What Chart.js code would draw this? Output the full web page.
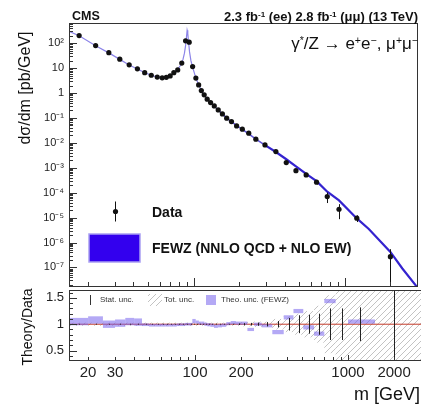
<!DOCTYPE html>
<html lang="en">
<head>
<meta charset="UTF-8">
<title>Drell-Yan dσ/dm</title>
<script src="https://cdn.jsdelivr.net/npm/chart.js"></script>
<style>
    body { margin: 0; background: #fff; }
    .wrap {
        position: relative;
        width: 421px;
        height: 404px;
        overflow: hidden;
        font-family: "Liberation Sans", Arial, Helvetica, sans-serif;
        color: #111;
    }
    canvas { position: absolute; left: 0; top: 0; }
    .txt { position: absolute; white-space: nowrap; line-height: 1; }
    .txt sup { font-size: 0.62em; vertical-align: 0.5em; line-height: 0; }
    .rot { transform: translate(-50%, -50%) rotate(-90deg); }
    .small { font-size: 8px; color: #333; }
</style>
</head>
<body>
<div class="wrap">
    <canvas id="topChart" width="421" height="404"></canvas>
    <canvas id="ratioChart" width="421" height="404"></canvas>

    <div class="txt" style="left:72px; top:10px; font-size:12.5px; font-weight:bold;">CMS</div>
    <div class="txt" style="right:3px; top:10px; font-size:13px; font-weight:bold;">2.3 fb<sup>-1</sup> (ee) 2.8 fb<sup>-1</sup> (μμ) (13 TeV)</div>
    <div class="txt" style="right:3px; top:35px; font-size:17px;">γ<sup>*</sup>/Z → e<sup>+</sup>e<sup>−</sup>, μ<sup>+</sup>μ<sup>−</sup></div>

    <div class="txt" style="left:152px; top:205px; font-size:14px; font-weight:bold;">Data</div>
    <div class="txt" style="left:152px; top:241px; font-size:14px; font-weight:bold;">FEWZ (NNLO QCD + NLO EW)</div>

    <div class="txt rot" style="left:25px; top:88px; font-size:16px;">dσ/dm [pb/GeV]</div>
    <div class="txt rot" style="left:27px; top:327px; font-size:14px;">Theory/Data</div>
    <div class="txt" style="right:1px; top:385px; font-size:18px;">m [GeV]</div>

    <div class="txt small" style="left:100px; top:296px;">Stat. unc.</div>
    <div class="txt small" style="left:164px; top:296px;">Tot. unc.</div>
    <div class="txt small" style="left:221px; top:296px;">Theo. unc. (FEWZ)</div>
</div>

<script>
    // ---- data ----
    const xMin = 15, xMax = 3000;

    const binLow  = [15, 20, 25, 30, 35, 40, 45, 50, 55, 60, 64, 68, 72, 76, 81, 86, 91, 96, 101, 106,
                     110, 115, 120, 126, 133, 141, 150, 160, 171, 185, 200, 220, 243, 273, 320, 380, 440, 510, 600, 700,
                     830, 1000, 1500];
    const binHigh = [20, 25, 30, 35, 40, 45, 50, 55, 60, 64, 68, 72, 76, 81, 86, 91, 96, 101, 106, 110,
                     115, 120, 126, 133, 141, 150, 160, 171, 185, 200, 220, 243, 273, 320, 380, 440, 510, 600, 700, 830,
                     1000, 1500, 3000];
    // where the markers sit
    const massCenter = [17.5, 22.5, 27.5, 32.5, 37.5, 42.5, 47.5, 52.5, 57.5, 62, 66, 70, 74, 78.5, 83.5, 88.5, 93.5, 98.5, 103.5, 108,
                        112.5, 117.5, 123, 129.5, 137, 145.5, 155, 165.5, 178, 192.5, 210, 231.5, 258, 296.5, 350, 410, 475, 555, 650, 765,
                        915, 1200, 2000];
    // dsigma/dm [pb/GeV]
    const xsData = [204, 81, 42, 23, 13.6, 9.4, 6.6, 5.2, 4.4, 4.1,
                    4.3, 4.9, 6.6, 8.5, 16, 125, 110, 11.6, 4.0, 2.13,
                    1.26, 0.85, 0.57, 0.415, 0.306, 0.211, 0.146, 0.098, 0.072, 0.048,
                    0.0355, 0.0245, 0.0141, 0.0083, 0.0045, 0.00162, 0.00077, 0.00052, 0.000264, 0.00007,
                    0.0000217, 0.0000095, 0.00000027];
    // relative error on the data points
    const xsErr = [0.02, 0.02, 0.02, 0.02, 0.02, 0.02, 0.02, 0.02, 0.02, 0.02,
                   0.02, 0.02, 0.02, 0.02, 0.02, 0.02, 0.02, 0.02, 0.02, 0.02,
                   0.02, 0.02, 0.02, 0.02, 0.02, 0.02, 0.02, 0.02, 0.02, 0.02,
                   0.02, 0.02, 0.02, 0.02, 0.05, 0.08, 0.1, 0.12, 0.18, 0.45,
                   0.6, 0.3, 1.0];

    // FEWZ prediction curve
    const mTheory  = [15, 17.5, 22.5, 27.5, 32.5, 37.5, 42.5, 47.5, 52.5, 57.5,
                      62, 66, 70, 74, 78.5, 82, 85, 87, 88.5, 89.5,
                      90.6, 91.5, 92.5, 94, 96, 98.5, 103.5, 108, 112.5, 117.5,
                      123, 129.5, 137, 145.5, 155, 165.5, 178, 192.5, 210, 231.5,
                      258, 296.5, 350, 410, 475, 555, 650, 765, 915, 1200,
                      1440, 2000, 2400, 3000];
    const xsTheory = [300, 200, 80, 41, 22.5, 13.5, 9.3, 6.6, 5.2, 4.4,
                      4.1, 4.3, 5.0, 6.5, 9.0, 13, 22, 40, 80, 150,
                      330, 250, 120, 45, 20, 11, 4.0, 2.15, 1.28, 0.85,
                      0.57, 0.41, 0.30, 0.21, 0.146, 0.099, 0.071, 0.049, 0.035, 0.023,
                      0.0141, 0.0081, 0.0043, 0.0022, 0.00115, 0.00057, 0.00029, 0.00011, 0.000049, 0.0000093,
                      0.0000035, 0.00000042, 0.000000091, 0.0000000165];

    // ratio panel
    const ratio = [1.05, 1.08, 1.00, 1.02, 1.05, 1.04, 0.99, 0.98, 0.98, 0.98,
                   0.98, 0.98, 0.98, 0.99, 0.99, 1.00, 1.00, 1.06, 1.04, 1.02,
                   1.02, 1.00, 0.99, 0.98, 0.96, 0.97, 0.98, 1.01, 1.03, 1.02,
                   1.02, 0.90, 1.00, 0.97, 0.85, 1.13, 1.25, 0.94, 0.82, 1.44,
                   null, 1.05, null];
    const theoUnc = [0.07, 0.07, 0.07, 0.07, 0.07, 0.07, 0.025, 0.025, 0.025, 0.025,
                     0.025, 0.025, 0.025, 0.025, 0.025, 0.025, 0.025, 0.04, 0.03, 0.03,
                     0.03, 0.03, 0.03, 0.03, 0.03, 0.03, 0.03, 0.03, 0.03, 0.03,
                     0.03, 0.03, 0.03, 0.03, 0.04, 0.04, 0.04, 0.04, 0.04, 0.04,
                     0.04, 0.04, 0.04];
    const statUnc = [0.006, 0.006, 0.006, 0.006, 0.006, 0.006, 0.006, 0.006, 0.006, 0.006,
                     0.006, 0.006, 0.006, 0.006, 0.006, 0.006, 0.006, 0.006, 0.006, 0.006,
                     0.006, 0.006, 0.006, 0.006, 0.006, 0.006, 0.006, 0.006, 0.006, 0.015,
                     0.02, 0.025, 0.03, 0.04, 0.06, 0.12, 0.17, 0.18, 0.2, 0.3,
                     0.3, 0.32, 9];
    const totUnc = [0.03, 0.03, 0.03, 0.03, 0.03, 0.03, 0.03, 0.03, 0.03, 0.03,
                    0.03, 0.03, 0.03, 0.03, 0.03, 0.03, 0.03, 0.03, 0.03, 0.03,
                    0.03, 0.03, 0.03, 0.03, 0.03, 0.03, 0.03, 0.03, 0.03, 0.03,
                    0.04, 0.04, 0.05, 0.05, 0.1, 0.15, 0.2, 0.25, 0.35, 0.55,
                    0.8, 0.8, 9];

    // axes
    const xTickVals = [20, 30, 100, 200, 1000, 2000];
    const yTickVals = [1e-7, 1e-6, 1e-5, 1e-4, 1e-3, 1e-2, 1e-1, 1, 10, 100];
    const yTickLabels = ['10⁻⁷', '10⁻⁶', '10⁻⁵', '10⁻⁴', '10⁻³', '10⁻²', '10⁻¹', '1', '10', '10²'];
    const rTickVals = [0.5, 1, 1.5];
    const rTickLabels = ['0.5', '1', '1.5'];

    // ---- styling ----
    Chart.defaults.font.family = '"Liberation Sans", Arial, Helvetica, sans-serif';
    const frameColor = '#333';
    const theoFill = 'rgba(118, 98, 236, 0.55)';

    // hatch pattern for the total uncertainty
    function makeHatch() {
        const c = document.createElement('canvas');
        c.width = 6; c.height = 6;
        const g = c.getContext('2d');
        g.strokeStyle = '#b4b4b4';
        g.lineWidth = 0.8;
        g.beginPath();
        g.moveTo(0, 6); g.lineTo(6, 0);
        g.moveTo(-1, 1); g.lineTo(1, -1);
        g.moveTo(5, 7); g.lineTo(7, 5);
        g.stroke();
        return g.createPattern(c, 'repeat');
    }

    function logTickValues(min, max) {
        const out = [];
        for (let k = Math.floor(Math.log10(min)); k <= Math.ceil(Math.log10(max)); k++) {
            for (let s = 1; s <= 9; s++) {
                const v = s * Math.pow(10, k);
                if (v >= min * 0.999 && v <= max * 1.001) out.push({ v, major: s === 1 });
            }
        }
        return out;
    }

    function drawFrameAndTicks(chart, yList, xMajorLen, xMinorLen) {
        const { ctx, chartArea: a, scales: { x, y } } = chart;
        ctx.save();
        ctx.strokeStyle = frameColor;
        ctx.lineWidth = 1;
        ctx.strokeRect(a.left + 0.5, a.top + 0.5, a.right - a.left, a.bottom - a.top);
        ctx.beginPath();
        logTickValues(xMin, xMax).forEach(t => {
            const px = Math.round(x.getPixelForValue(t.v)) + 0.5;
            ctx.moveTo(px, a.bottom);
            ctx.lineTo(px, a.bottom - (t.major ? xMajorLen : xMinorLen));
        });
        yList.forEach(t => {
            const py = Math.round(y.getPixelForValue(t.v)) + 0.5;
            ctx.moveTo(a.left, py);
            ctx.lineTo(a.left + (t.major ? 8 : 4), py);
        });
        ctx.stroke();
        ctx.restore();
    }

    // ---- top panel ----
    const topPlugin = {
        id: 'topPanel',
        afterDatasetsDraw(chart) {
            const { ctx, chartArea: a, scales: { x, y } } = chart;
            ctx.save();
            ctx.beginPath();
            ctx.rect(a.left, a.top, a.right - a.left, a.bottom - a.top);
            ctx.clip();
            ctx.strokeStyle = '#111';
            ctx.lineWidth = 1;
            ctx.beginPath();
            massCenter.forEach((m, i) => {
                const v = xsData[i], e = xsErr[i];
                const px = Math.round(x.getPixelForValue(m)) + 0.5;
                const hi = y.getPixelForValue(v * (1 + e));
                const lo = v * (1 - e) > 0 ? y.getPixelForValue(v * (1 - e)) : a.bottom;
                ctx.moveTo(px, hi);
                ctx.lineTo(px, lo);
            });
            ctx.stroke();
            ctx.restore();

            drawFrameAndTicks(chart, logTickValues(y.min, y.max), 8, 4);

            // legend symbols
            ctx.save();
            ctx.strokeStyle = '#111';
            ctx.fillStyle = '#111';
            ctx.lineWidth = 1;
            ctx.beginPath();
            ctx.moveTo(115.5, 201.5); ctx.lineTo(115.5, 221.5);
            ctx.stroke();
            ctx.beginPath();
            ctx.arc(115.5, 211.5, 2.6, 0, Math.PI * 2);
            ctx.fill();
            ctx.fillStyle = '#3300ee';
            ctx.fillRect(89, 234, 51, 28);
            ctx.strokeStyle = '#a99ff2';
            ctx.lineWidth = 1.5;
            ctx.strokeRect(89, 234, 51, 28);
            ctx.restore();
        }
    };

    new Chart(document.getElementById('topChart'), {
        type: 'line',
        data: {
            datasets: [
                {
                    label: 'Data',
                    data: massCenter.map((m, i) => ({ x: m, y: xsData[i] })),
                    showLine: false,
                    pointRadius: 2.6,
                    pointBackgroundColor: '#111',
                    pointBorderColor: '#111',
                    pointBorderWidth: 0
                },
                {
                    label: 'FEWZ (NNLO QCD + NLO EW)',
                    data: mTheory.map((m, i) => ({ x: m, y: xsTheory[i] })),
                    pointRadius: 0,
                    tension: 0,
                    borderColor: '#8c84e8',
                    borderWidth: 1.2,
                    segment: {
                        borderColor: c => c.p1.parsed.x > 300 ? '#3423cf' : (c.p1.parsed.x > 150 ? '#6256dc' : '#8c84e8'),
                        borderWidth: c => c.p1.parsed.x > 300 ? 2.2 : (c.p1.parsed.x > 150 ? 1.6 : 1.2)
                    }
                }
            ]
        },
        options: {
            responsive: false,
            animation: false,
            events: [],
            layout: { padding: { top: 23, bottom: 118, left: 0, right: 0 } },
            plugins: { legend: { display: false }, tooltip: { enabled: false } },
            scales: {
                x: { type: 'logarithmic', min: xMin, max: xMax, display: false },
                y: {
                    type: 'logarithmic',
                    min: 1.8e-8,
                    max: 650,
                    bounds: 'data',
                    grid: { display: false, drawTicks: false },
                    border: { display: false },
                    afterFit: s => { s.width = 69; },
                    afterBuildTicks: s => { s.ticks = yTickVals.map(v => ({ value: v })); },
                    ticks: {
                        autoSkip: false,
                        padding: 5,
                        color: '#222',
                        font: { size: 11 },
                        callback: (v, i) => yTickLabels[i]
                    }
                }
            }
        },
        plugins: [topPlugin]
    });

    // ---- ratio panel ----
    const hatch = makeHatch();

    const ratioPlugin = {
        id: 'ratioPanel',
        beforeDatasetsDraw(chart) {
            const { ctx, chartArea: a, scales: { x, y } } = chart;
            ctx.save();
            ctx.beginPath();
            ctx.rect(a.left, a.top, a.right - a.left, a.bottom - a.top);
            ctx.clip();
            ctx.fillStyle = hatch;
            binLow.forEach((lo, i) => {
                const x0 = x.getPixelForValue(lo), x1 = x.getPixelForValue(binHigh[i]);
                const y0 = y.getPixelForValue(1 + totUnc[i]), y1 = y.getPixelForValue(1 - totUnc[i]);
                ctx.fillRect(x0, y0, x1 - x0, y1 - y0);
            });
            ctx.restore();
        },
        afterDatasetsDraw(chart) {
            const { ctx, chartArea: a, scales: { x, y } } = chart;
            ctx.save();
            ctx.beginPath();
            ctx.rect(a.left, a.top, a.right - a.left, a.bottom - a.top);
            ctx.clip();
            // theory / data boxes
            ctx.fillStyle = theoFill;
            binLow.forEach((lo, i) => {
                if (ratio[i] == null) return;
                const x0 = x.getPixelForValue(lo), x1 = x.getPixelForValue(binHigh[i]);
                const y0 = y.getPixelForValue(ratio[i] + theoUnc[i]), y1 = y.getPixelForValue(ratio[i] - theoUnc[i]);
                ctx.fillRect(x0, y0, x1 - x0, y1 - y0);
            });
            // stat. unc. bars around 1
            ctx.strokeStyle = '#222';
            ctx.lineWidth = 1;
            ctx.beginPath();
            massCenter.forEach((m, i) => {
                const px = Math.round(x.getPixelForValue(m)) + 0.5;
                const s = Math.max(statUnc[i], 0.008);
                ctx.moveTo(px, y.getPixelForValue(1 + s));
                ctx.lineTo(px, y.getPixelForValue(1 - s));
            });
            ctx.stroke();
            ctx.restore();

            const yl = [];
            for (let k = 4; k <= 16; k++) yl.push({ v: k / 10, major: k % 5 === 0 });
            drawFrameAndTicks(chart, yl, 5, 3);

            // legend symbols
            ctx.save();
            ctx.strokeStyle = '#333';
            ctx.lineWidth = 1;
            ctx.beginPath();
            ctx.moveTo(90.5, 295); ctx.lineTo(90.5, 305);
            ctx.stroke();
            ctx.fillStyle = hatch;
            ctx.fillRect(148, 294, 14, 12);
            ctx.fillStyle = theoFill;
            ctx.fillRect(206, 295, 10, 10);
            ctx.restore();
        }
    };

    const unityLine = [{ x: xMin, y: 1 }, { x: xMax, y: 1 }];

    new Chart(document.getElementById('ratioChart'), {
        type: 'line',
        data: {
            datasets: [{
                label: 'unity',
                data: unityLine,
                borderColor: '#c43a2a',
                borderWidth: 1,
                pointRadius: 0
            }]
        },
        options: {
            responsive: false,
            animation: false,
            events: [],
            layout: { padding: { top: 290, bottom: 0, left: 0, right: 0 } },
            plugins: { legend: { display: false }, tooltip: { enabled: false } },
            scales: {
                x: {
                    type: 'logarithmic',
                    min: xMin,
                    max: xMax,
                    bounds: 'data',
                    grid: { display: false, drawTicks: false },
                    border: { display: false },
                    afterFit: s => { s.height = 44; },
                    afterBuildTicks: s => { s.ticks = xTickVals.map(v => ({ value: v })); },
                    ticks: {
                        autoSkip: false,
                        maxRotation: 0,
                        padding: 4,
                        color: '#222',
                        font: { size: 15 },
                        callback: v => String(v)
                    }
                },
                y: {
                    type: 'linear',
                    min: 0.32,
                    max: 1.65,
                    grid: { display: false, drawTicks: false },
                    border: { display: false },
                    afterFit: s => { s.width = 69; },
                    afterBuildTicks: s => { s.ticks = rTickVals.map(v => ({ value: v })); },
                    ticks: {
                        autoSkip: false,
                        padding: 5,
                        color: '#222',
                        font: { size: 13 },
                        callback: (v, i) => rTickLabels[i]
                    }
                }
            }
        },
        plugins: [ratioPlugin]
    });
</script>
</body>
</html>
